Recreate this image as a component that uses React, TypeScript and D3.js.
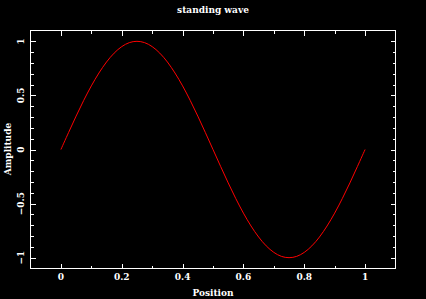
import React from "react";
import * as d3 from "d3";

const positions: number[] = [
  0, 0.025, 0.05, 0.075, 0.1, 0.125, 0.15, 0.175, 0.2, 0.225, 0.25, 0.275, 0.3, 0.325, 0.35, 0.375, 0.4, 0.425, 0.45, 0.475, 0.5,
  0.525, 0.55, 0.575, 0.6, 0.625, 0.65, 0.675, 0.7, 0.725, 0.75, 0.775, 0.8, 0.825, 0.85, 0.875, 0.9, 0.925, 0.95, 0.975, 1,
];
const amplitudes: number[] = [
  0, 0.156, 0.309, 0.454, 0.588, 0.707, 0.809, 0.891, 0.951, 0.988, 1, 0.988, 0.951, 0.891, 0.809, 0.707, 0.588, 0.454, 0.309, 0.156, 0,
  -0.156, -0.309, -0.454, -0.588, -0.707, -0.809, -0.891, -0.951, -0.988, -1, -0.988, -0.951, -0.891, -0.809, -0.707, -0.588, -0.454, -0.309, -0.156, 0,
];
const xTickLabels: number[] = [0, 0.2, 0.4, 0.6, 0.8, 1];
const yTickLabels: number[] = [-1, -0.5, 0, 0.5, 1];
const xMinorTicks: number[] = [-0.1, 0, 0.1, 0.2, 0.3, 0.4, 0.5, 0.6, 0.7, 0.8, 0.9, 1, 1.1];
const yMinorTicks: number[] = [-1.1, -1, -0.9, -0.8, -0.7, -0.6, -0.5, -0.4, -0.3, -0.2, -0.1, 0, 0.1, 0.2, 0.3, 0.4, 0.5, 0.6, 0.7, 0.8, 0.9, 1, 1.1];
const title = "standing wave";
const xLabel = "Position";
const yLabel = "Amplitude";

const W = 426;
const H = 299;
const L = 30.5, R = 395.5, T = 30.5, B = 268.5;

export default function App() {
  const x = d3.scaleLinear().domain([-0.1, 1.1]).range([L, R]);
  const y = d3.scaleLinear().domain([-1.1, 1.1]).range([B, T]);
  const line = d3
    .line<number>()
    .x((_, i) => x(positions[i]))
    .y((d) => y(d))
    .curve(d3.curveCatmullRom);
  const font = "'DejaVu Serif', serif";
  const isMajorX = (v: number) => xTickLabels.some((t) => Math.abs(t - v) < 1e-9);
  const isMajorY = (v: number) => yTickLabels.some((t) => Math.abs(t - v) < 1e-9);
  const fmt = (v: number) => (v < 0 ? "\u2212" + String(-v) : String(v));
  return (
    <svg
      width={W}
      height={H}
      style={{ position: "absolute", left: 0, top: 0, background: "#000" }}
    >
      <rect x={0} y={0} width={W} height={H} fill="#000" />
      <g stroke="#fff" strokeWidth={1} shapeRendering="crispEdges">
        {xMinorTicks
          .filter((v) => v > -0.1 + 1e-9 && v < 1.1 - 1e-9)
          .map((v) => {
            const len = isMajorX(v) ? 5 : 3;
            const px = Math.round(x(v)) + 0.5;
            return (
              <g key={"x" + v}>
                <line x1={px} x2={px} y1={B} y2={B - len} />
                <line x1={px} x2={px} y1={T} y2={T + len} />
              </g>
            );
          })}
        {yMinorTicks
          .filter((v) => v > -1.1 + 1e-9 && v < 1.1 - 1e-9)
          .map((v) => {
            const len = isMajorY(v) ? 5 : 3;
            const py = Math.round(y(v)) + 0.5;
            return (
              <g key={"y" + v}>
                <line x1={L} x2={L + len} y1={py} y2={py} />
                <line x1={R} x2={R - len} y1={py} y2={py} />
              </g>
            );
          })}
        <rect x={L} y={T} width={R - L} height={B - T} fill="none" />
      </g>
      <path d={line(amplitudes) || ""} fill="none" stroke="#f00" strokeWidth={1} />
      <g fill="#fff" fontFamily={font} fontSize={9} fontWeight="bold">
        <text x={213} y={13} textAnchor="middle">{title}</text>
        {xTickLabels.map((v) => (
          <text key={"xl" + v} x={x(v)} y={280} textAnchor="middle">{fmt(v)}</text>
        ))}
        {yTickLabels.map((v) => (
          <text
            key={"yl" + v}
            transform={`translate(24,${y(v)}) rotate(-90)`}
            textAnchor="middle"
          >
            {fmt(v)}
          </text>
        ))}
        <text x={213} y={296} textAnchor="middle">{xLabel}</text>
        <text transform={`translate(11,149) rotate(-90)`} textAnchor="middle">{yLabel}</text>
      </g>
    </svg>
  );
}
